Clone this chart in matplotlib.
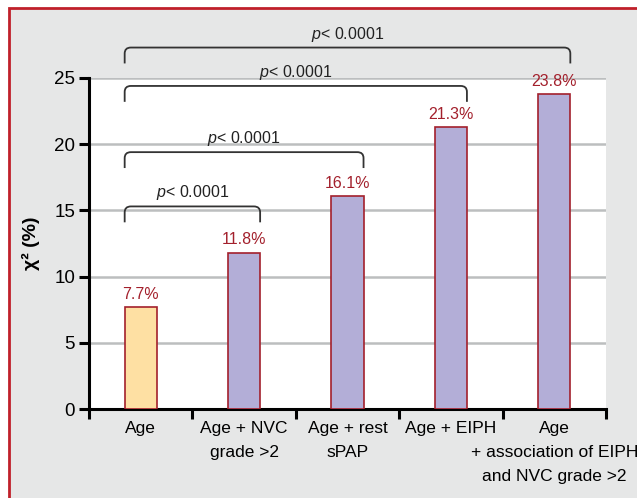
import matplotlib.pyplot as plt
import matplotlib.patches as mpatches
from matplotlib.path import Path
import numpy as np

plt.rcParams['font.family'] = ['Liberation Sans Narrow', 'Liberation Sans', 'DejaVu Sans']
plt.rcParams['mathtext.fontset'] = 'custom'
plt.rcParams['mathtext.it'] = 'Liberation Sans:italic'
plt.rcParams['mathtext.rm'] = 'Liberation Sans'

# data
categories = ['Age', 'Age + NVC\ngrade >2', 'Age + rest\nsPAP', 'Age + EIPH',
              'Age\n+ association of EIPH\nand NVC grade >2']
values = [7.7, 11.8, 16.1, 21.3, 23.8]
value_labels = ['7.7%', '11.8%', '16.1%', '21.3%', '23.8%']
# comparisons: (from index, to index, p text)
comparisons = [(0, 1, '$p$< 0.0001'), (0, 2, '$p$< 0.0001'),
               (0, 3, '$p$< 0.0001'), (0, 4, '$p$< 0.0001')]
bracket_levels = [15.3, 19.4, 24.4, 27.3]

dark_red = '#a3202c'
bar_colors = ['#fee0a3'] + ['#b3aed7'] * 4
bg_gray = '#e6e7e7'
grid_gray = '#bcbebf'

fig = plt.figure(figsize=(6.37, 4.98), dpi=100)
fig.patch.set_facecolor('white')

# gray panel with red frame
panel = mpatches.Rectangle((8.5 / 637, -0.05), 1.0, (498 - 8) / 498 + 0.05,
                           transform=fig.transFigure, facecolor=bg_gray,
                           edgecolor='#c0202a', linewidth=2, zorder=-10)
fig.patches.append(panel)

ax = fig.add_axes([89 / 637, 1 - 409 / 498, (606 - 89) / 637, (409 - 78) / 498])
ax.set_facecolor('white')

x = np.arange(len(categories))
bw = 0.31
ax.bar(x, values, width=bw, color=bar_colors, edgecolor=dark_red, linewidth=1.2, zorder=3)
for xi, v, lab in zip(x, values, value_labels):
    ax.text(xi, v + 0.4, lab, ha='center', va='bottom', color=dark_red, fontsize=11.5)

ax.set_xlim(-0.5, len(categories) - 0.5)
ax.set_ylim(0, 25)
ax.set_yticks([0, 5, 10, 15, 20, 25])
for yv in [5, 10, 15, 20, 25]:
    ax.axhline(yv, color=grid_gray, linewidth=1.8, zorder=1)

# category labels, one text per line
ax.set_xticks(x)
ax.set_xticklabels([])
for xi, cat in zip(x, categories):
    for k, line in enumerate(cat.split('\n')):
        ax.annotate(line, xy=(xi, 0), xycoords=('data', 'axes fraction'),
                    xytext=(0, -14 - 17.3 * k), textcoords='offset points',
                    ha='center', va='center', fontsize=12.5, annotation_clip=False)
ax.set_xticks(np.arange(-0.5, len(categories)), minor=True)
ax.tick_params(axis='x', which='major', length=0)
ax.tick_params(axis='x', which='minor', length=7, width=2.2, direction='out')
ax.tick_params(axis='y', length=7, width=2.2, direction='out', labelsize=13.5, pad=3)

for s in ['top', 'right']:
    ax.spines[s].set_visible(False)
for s in ['left', 'bottom']:
    ax.spines[s].set_linewidth(2.2)

ax.set_ylabel('χ² (%)', fontsize=14, fontweight='bold', labelpad=10)


def bracket(ax, i0, i1, y, text):
    x0 = i0 - bw / 2
    x1 = i1 + bw / 2
    drop = 1.2
    rx, ry = 0.06, 0.45
    verts = [(x0, y - drop), (x0, y - ry), (x0, y), (x0 + rx, y),
             (x1 - rx, y), (x1, y), (x1, y - ry), (x1, y - drop)]
    codes = [Path.MOVETO, Path.LINETO, Path.CURVE3, Path.CURVE3,
             Path.LINETO, Path.CURVE3, Path.CURVE3, Path.LINETO]
    patch = mpatches.PathPatch(Path(verts, codes), facecolor='none',
                               edgecolor='#333333', linewidth=1.3, clip_on=False, zorder=4)
    ax.add_patch(patch)
    ax.text((x0 + x1) / 2, y + 0.3, text, ha='center', va='bottom',
            fontsize=11.5, color='#222222')


for (i0, i1, txt), lvl in zip(comparisons, bracket_levels):
    bracket(ax, i0, i1, lvl, txt)

fig.savefig('out.png', dpi=100, facecolor=fig.get_facecolor())
